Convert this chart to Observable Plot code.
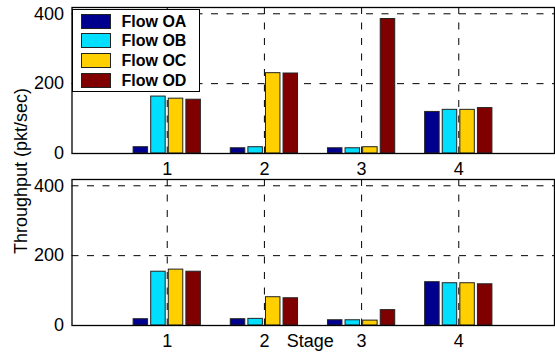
<!DOCTYPE html>
<html><head><meta charset="utf-8">
<script src="https://cdn.jsdelivr.net/npm/d3@7"></script>
<script src="https://cdn.jsdelivr.net/npm/@observablehq/plot@0.6"></script>
<style>
body{margin:0;background:#fff;}
#chart{position:relative;width:555px;height:354px;font-family:"Liberation Sans",Arial,Helvetica,sans-serif;}
#chart svg{position:absolute;left:0;top:0;}
#legend{position:absolute;left:72px;top:9px;width:128px;height:83px;border:1px solid #000;background:#fff;box-sizing:border-box;}
.sw{position:absolute;left:8px;width:30px;height:15px;border:1px solid #222;box-sizing:border-box;}
.lt{position:absolute;left:48.5px;height:15px;line-height:15px;font-weight:bold;font-size:16px;color:#000;white-space:nowrap;}
</style></head><body><div id="chart"></div>
<script>
const stages = [1, 2, 3, 4];
const flows = ["Flow OA", "Flow OB", "Flow OC", "Flow OD"];
const colors = ["#00008F", "#00DFFF", "#FFCF00", "#800000"];
const panels = ["top", "bottom"];
const yTicks = [0, 200, 400];

// top panel
const topOA = [18, 15, 15, 119];
const topOB = [163, 18, 15, 125];
const topOC = [157, 230, 18, 125];
const topOD = [154, 229, 385, 130];
// bottom panel
const botOA = [18, 18, 15, 124];
const botOB = [154, 19, 15, 121];
const botOC = [160, 81, 14, 121];
const botOD = [154, 78, 44, 118];

const series = {
  top: [topOA, topOB, topOC, topOD],
  bottom: [botOA, botOB, botOC, botOD]
};
const rows = [];
for (const p of panels) {
  series[p].forEach((vals, i) => {
    vals.forEach((v, j) => rows.push({panel: p, flow: flows[i], slot: i, stage: stages[j], value: v}));
  });
}
const spacing = 0.181, barW = 0.149;
const center = d => d.stage + (d.slot - 1.5) * spacing;

const plot = Plot.plot({
  width: 555, height: 354,
  marginTop: 7, marginBottom: 28.5, marginLeft: 71.5, marginRight: 1,
  style: {fontFamily: '"Liberation Sans", Arial, Helvetica, sans-serif', fontSize: "18px", background: "transparent", color: "#000"},
  x: {domain: [0.02, 4.985]},
  y: {domain: [0, 418]},
  fy: {domain: panels, axis: null, paddingInner: 0.149, paddingOuter: 0},
  color: {domain: flows, range: colors},
  marks: [
    Plot.gridY(yTicks.filter(t => t > 0), {stroke: "#000", strokeOpacity: 1, strokeDasharray: "7,8.5", strokeWidth: 1}),
    Plot.gridX(stages, {stroke: "#000", strokeOpacity: 1, strokeDasharray: "7,8.5", strokeWidth: 1}),
    Plot.rect(rows, {
      fy: "panel",
      x1: d => center(d) - barW / 2, x2: d => center(d) + barW / 2,
      y1: 0, y2: "value",
      fill: "flow", stroke: "#222", strokeWidth: 1
    }),
    Plot.axisY({ticks: yTicks, tickFormat: "d", tickSize: 0, tickPadding: 8, label: null, facetAnchor: null}),
    Plot.axisX({ticks: stages, tickFormat: "d", tickSize: 0, tickPadding: 9, label: null, facetAnchor: null}),
    Plot.text([{panel: "bottom", label: "Stage"}], {fy: "panel", frameAnchor: "bottom", lineAnchor: "top", dy: 9, dx: -3, text: "label", fontSize: 18}),
    Plot.frame({stroke: "#000", strokeWidth: 1.3})
  ]
});

const chart = document.getElementById("chart");
chart.appendChild(plot);

d3.select(plot).append("text")
  .attr("transform", "translate(27,171) rotate(-90)")
  .attr("text-anchor", "middle")
  .attr("font-size", 18)
  .attr("fill", "#000")
  .text("Throughput (pkt/sec)");

const legend = document.createElement("div");
legend.id = "legend";
flows.forEach((f, i) => {
  const top = 3.5 + i * 19.7;
  const sw = document.createElement("div");
  sw.className = "sw";
  sw.style.top = top + "px";
  sw.style.background = colors[i];
  legend.appendChild(sw);
  const t = document.createElement("div");
  t.className = "lt";
  t.style.top = top + "px";
  t.textContent = f;
  legend.appendChild(t);
});
chart.appendChild(legend);
</script>
</body></html>
